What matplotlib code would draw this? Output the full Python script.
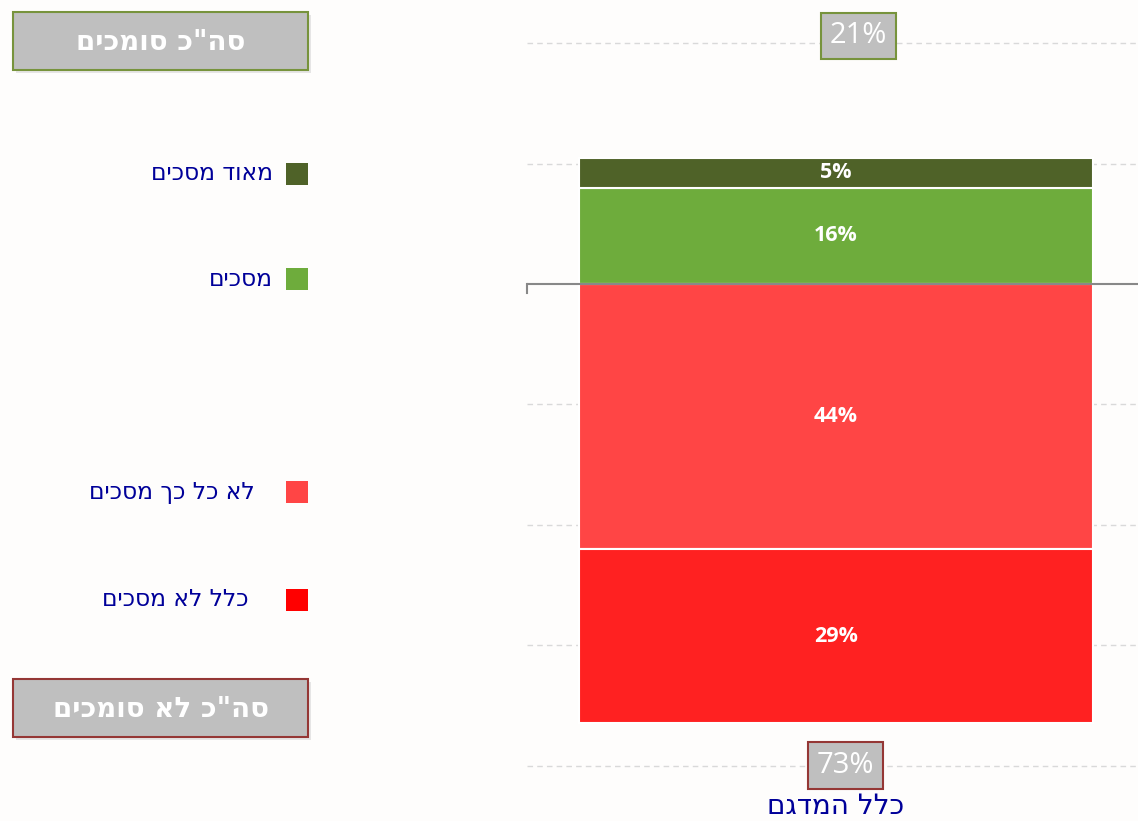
import matplotlib.pyplot as plt
from matplotlib.patches import Rectangle

# data
category = 'כלל המדגם'
pos_labels = ['מסכים', 'מאוד מסכים']
pos_values = [16, 5]
pos_colors = ['#6EAC3C', '#4F6228']
neg_labels = ['לא כל כך מסכים', 'כלל לא מסכים']
neg_values = [44, 29]
neg_colors = ['#FF4545', '#FF2121']
legend_colors = {'מאוד מסכים': '#4F6228', 'מסכים': '#6EAC3C',
                 'לא כל כך מסכים': '#FF4545', 'כלל לא מסכים': '#FF0000'}
total_agree = sum(pos_values)
total_disagree = sum(neg_values)
gridlines = [40, 20, -20, -40, -60, -80]

W, H = 1138, 821
BG = '#FEFDFC'
TXT = '#000099'


def rtl(s):
    # matplotlib has no bidi, so hebrew is reversed for display
    return s[::-1]


def fx(x):
    return x / W


def fy(y):
    return 1 - y / H


fig = plt.figure(figsize=(W / 100, H / 100), dpi=100)
fig.patch.set_facecolor(BG)

ax = fig.add_axes([fx(527), 1 - 784 / H, 618 / W, 784 / H])
ax.set_facecolor(BG)
ax.set_xlim(-0.5, 0.5)
ax.set_ylim(-83.06, 47.18)
for s in ax.spines.values():
    s.set_visible(False)
ax.set_yticks([])

for g in gridlines:
    ax.axhline(g, color='#D9D9D9', lw=1, ls=(0, (4, 3)), zorder=0)

bw = 0.832
bottom = 0
for v, c in zip(pos_values, pos_colors):
    ax.bar(0, v, bw, bottom=bottom, color=c, edgecolor='white', lw=1.5, zorder=2)
    ax.text(0, bottom + v / 2, f'{v}%', ha='center', va='center', color='white',
            fontsize=15.5, fontweight='bold', family='Open Sans', zorder=4)
    bottom += v
bottom = 0
for v, c in zip(neg_values, neg_colors):
    ax.bar(0, -v, bw, bottom=bottom, color=c, edgecolor='white', lw=1.5, zorder=2)
    ax.text(0, bottom - v / 2, f'{v}%', ha='center', va='center', color='white',
            fontsize=15.5, fontweight='bold', family='Open Sans', zorder=4)
    bottom -= v

ax.axhline(0, color='#888888', lw=1.5, zorder=3)
ax.plot([-0.5, -0.5], [0, -1.5], color='#888888', lw=1.5, clip_on=False, zorder=3)

ax.set_xticks([0])
ax.set_xticklabels([rtl(category)], fontsize=20, color=TXT)
ax.tick_params(axis='x', length=0, pad=6)

# total boxes on the bar
for val, x, y, edge in [(total_agree, 0.036, 41.2, '#77933C'),
                        (total_disagree, 0.0146, -80, '#953735')]:
    ax.text(x, y, f'{val}%', ha='center', va='center',
            color='white', fontsize=21, family='Open Sans', zorder=6,
            bbox=dict(boxstyle='square,pad=0.3', fc='#BFBFBF', ec=edge, lw=1.5))

# legend on the left
leg_items = [('מאוד מסכים', 174, 273), ('מסכים', 279, 273),
             ('לא כל כך מסכים', 492, 255), ('כלל לא מסכים', 600, 249)]
for name, y, tx in leg_items:
    fig.patches.append(Rectangle((fx(286), fy(y + 11)), 22 / W, 22 / H,
                                 transform=fig.transFigure, fc=legend_colors[name], ec='none'))
    fig.text(fx(tx), fy(y), rtl(name), ha='right', va='center', color=TXT, fontsize=16.8)

# total headers
for label, y0, edge in [('סה"כ סומכים', 12, '#77933C'), ('סה"כ לא סומכים', 679, '#953735')]:
    fig.patches.append(Rectangle((fx(16), fy(y0 + 61)), 295 / W, 58 / H,
                                 transform=fig.transFigure, fc='#BBBBBB', ec='none', alpha=0.35))
    fig.patches.append(Rectangle((fx(13), fy(y0 + 58)), 295 / W, 58 / H,
                                 transform=fig.transFigure, fc='#BFBFBF', ec=edge, lw=1.5))
    fig.text(fx(161), fy(y0 + 30), rtl(label), ha='center', va='center', color='white',
             fontsize=20, fontweight='bold')

fig.savefig('out.png', dpi=100, facecolor=BG)
